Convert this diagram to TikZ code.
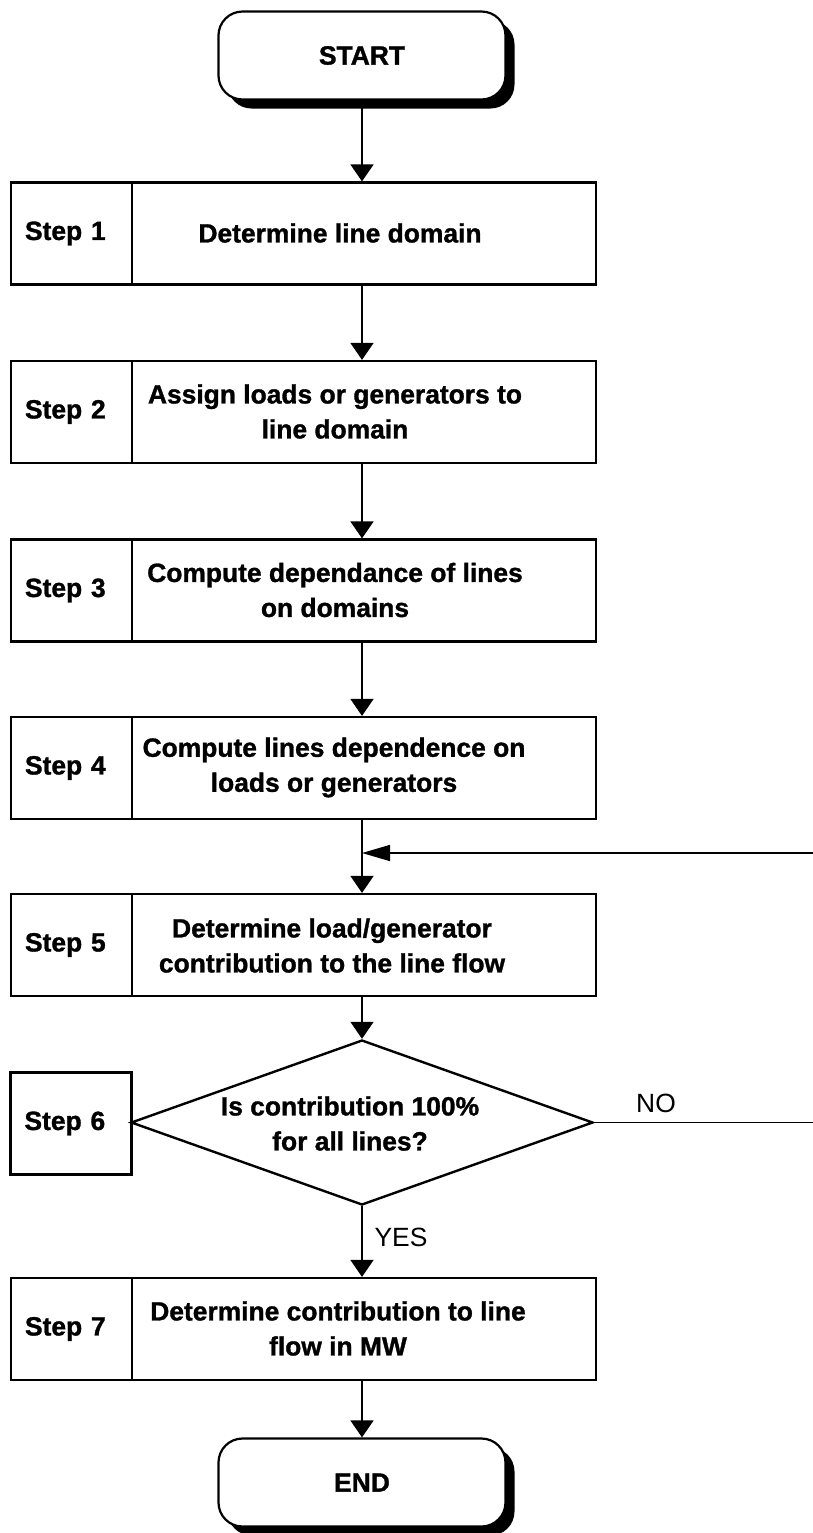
\documentclass[tikz,border=0pt]{standalone}
\usepackage{fontspec}
\setmainfont{Liberation Sans}[BoldFeatures={FakeBold=1.2}]
\usetikzlibrary{arrows.meta,shapes.geometric,shadows}
\begin{document}
\begin{tikzpicture}[x=0.5pt,y=-0.5pt,
  font=\fontsize{13.2}{17.5}\selectfont\bfseries,
  term/.style={draw, line width=1.1pt, rounded corners=12pt, fill=white,
    minimum width=143.5pt, minimum height=44pt, inner sep=0pt,
    drop shadow={shadow xshift=4.5pt, shadow yshift=-4.5pt, fill=black, opacity=1}},
  lab/.style={draw, line width=1.1pt, minimum height=51pt, text width=46.5pt,
    inner xsep=7pt, inner ysep=0pt, align=left},
  mainbox/.style={draw, line width=1.1pt, minimum width=232pt, minimum height=51pt, inner sep=0pt},
  txt/.style={align=center, inner sep=0pt},
  dec/.style={draw, diamond, line width=1.2pt, minimum width=231pt, minimum height=82.5pt, inner sep=0pt},
  conn/.style={line width=0.75pt, -{Triangle[length=8.5pt,width=11.5pt]}},
  fb/.style={line width=0.75pt, -{Triangle[length=14pt,width=8pt]}},
  yn/.style={font=\fontsize{13.2}{17.5}\selectfont\mdseries, inner sep=0pt}
]
\useasboundingbox (0,0) rectangle (813,1533);
\clip (0,0) rectangle (813,1533);

\coordinate (ax) at (362,0);

% terminals
\node[term] (start) at (362,55.5) {START};
\node[term] (stop) at (362,1482.5) {END};

% Step 1
\node[lab] (l1) at (71.5,233.5) {Step 1};
\node[mainbox] (s1) at (364,233.5) {};
\node[txt] (t1) at (340,233) {Determine line domain};

% Step 2
\node[lab] (l2) at (71.5,412) {Step 2};
\node[mainbox] (s2) at (364,412) {};
\node[txt] (t2) at (335,411.5) {Assign loads or generators to\\line domain};

% Step 3
\node[lab] (l3) at (71.5,590.5) {Step 3};
\node[mainbox] (s3) at (364,590.5) {};
\node[txt] (t3) at (335,590) {Compute dependance of lines\\on domains};

% Step 4
\node[lab] (l4) at (71.5,768) {Step 4};
\node[mainbox] (s4) at (364,768) {};
\node[txt] (t4) at (334,767.5) {Compute lines dependence on\\loads or generators};

% Step 5
\node[lab] (l5) at (71.5,945) {Step 5};
\node[mainbox] (s5) at (364,945) {};
\node[txt] (t5) at (332,945.5) {Determine load/generator\\contribution to the line flow};

% Step 6
\node[lab] (l6) at (71,1123.5) {Step 6};
\node[dec] (dec) at (362,1122.5) {};
\node[txt] (dt) at (350,1123.5) {Is contribution 100\%\\for all lines?};
\node[yn] (no) at (656,1103) {NO};
\node[yn] (yes) at (401,1237) {YES};

% Step 7
\node[lab] (l7) at (71.5,1329) {Step 7};
\node[mainbox] (s7) at (364,1329) {};
\node[txt] (t7) at (338,1328.5) {Determine contribution to line\\flow in MW};

% connectors
\draw[conn] (start.south) -- (start.south |- s1.north);
\draw[conn] (s1.south -| ax) -- (s2.north -| ax);
\draw[conn] (s2.south -| ax) -- (s3.north -| ax);
\draw[conn] (s3.south -| ax) -- (s4.north -| ax);
\draw[conn] (s4.south -| ax) -- (s5.north -| ax);
\draw[conn] (s5.south -| ax) -- (dec.north);
\draw[conn] (dec.south) -- (s7.north -| ax);
\draw[conn] (s7.south -| ax) -- (stop.north);

% feedback loop (NO)
\coordinate (j) at (362,853);
\coordinate (corner) at (840,853);
\draw[fb] (dec.east) -| (corner) -- (j);
\end{tikzpicture}
\end{document}
